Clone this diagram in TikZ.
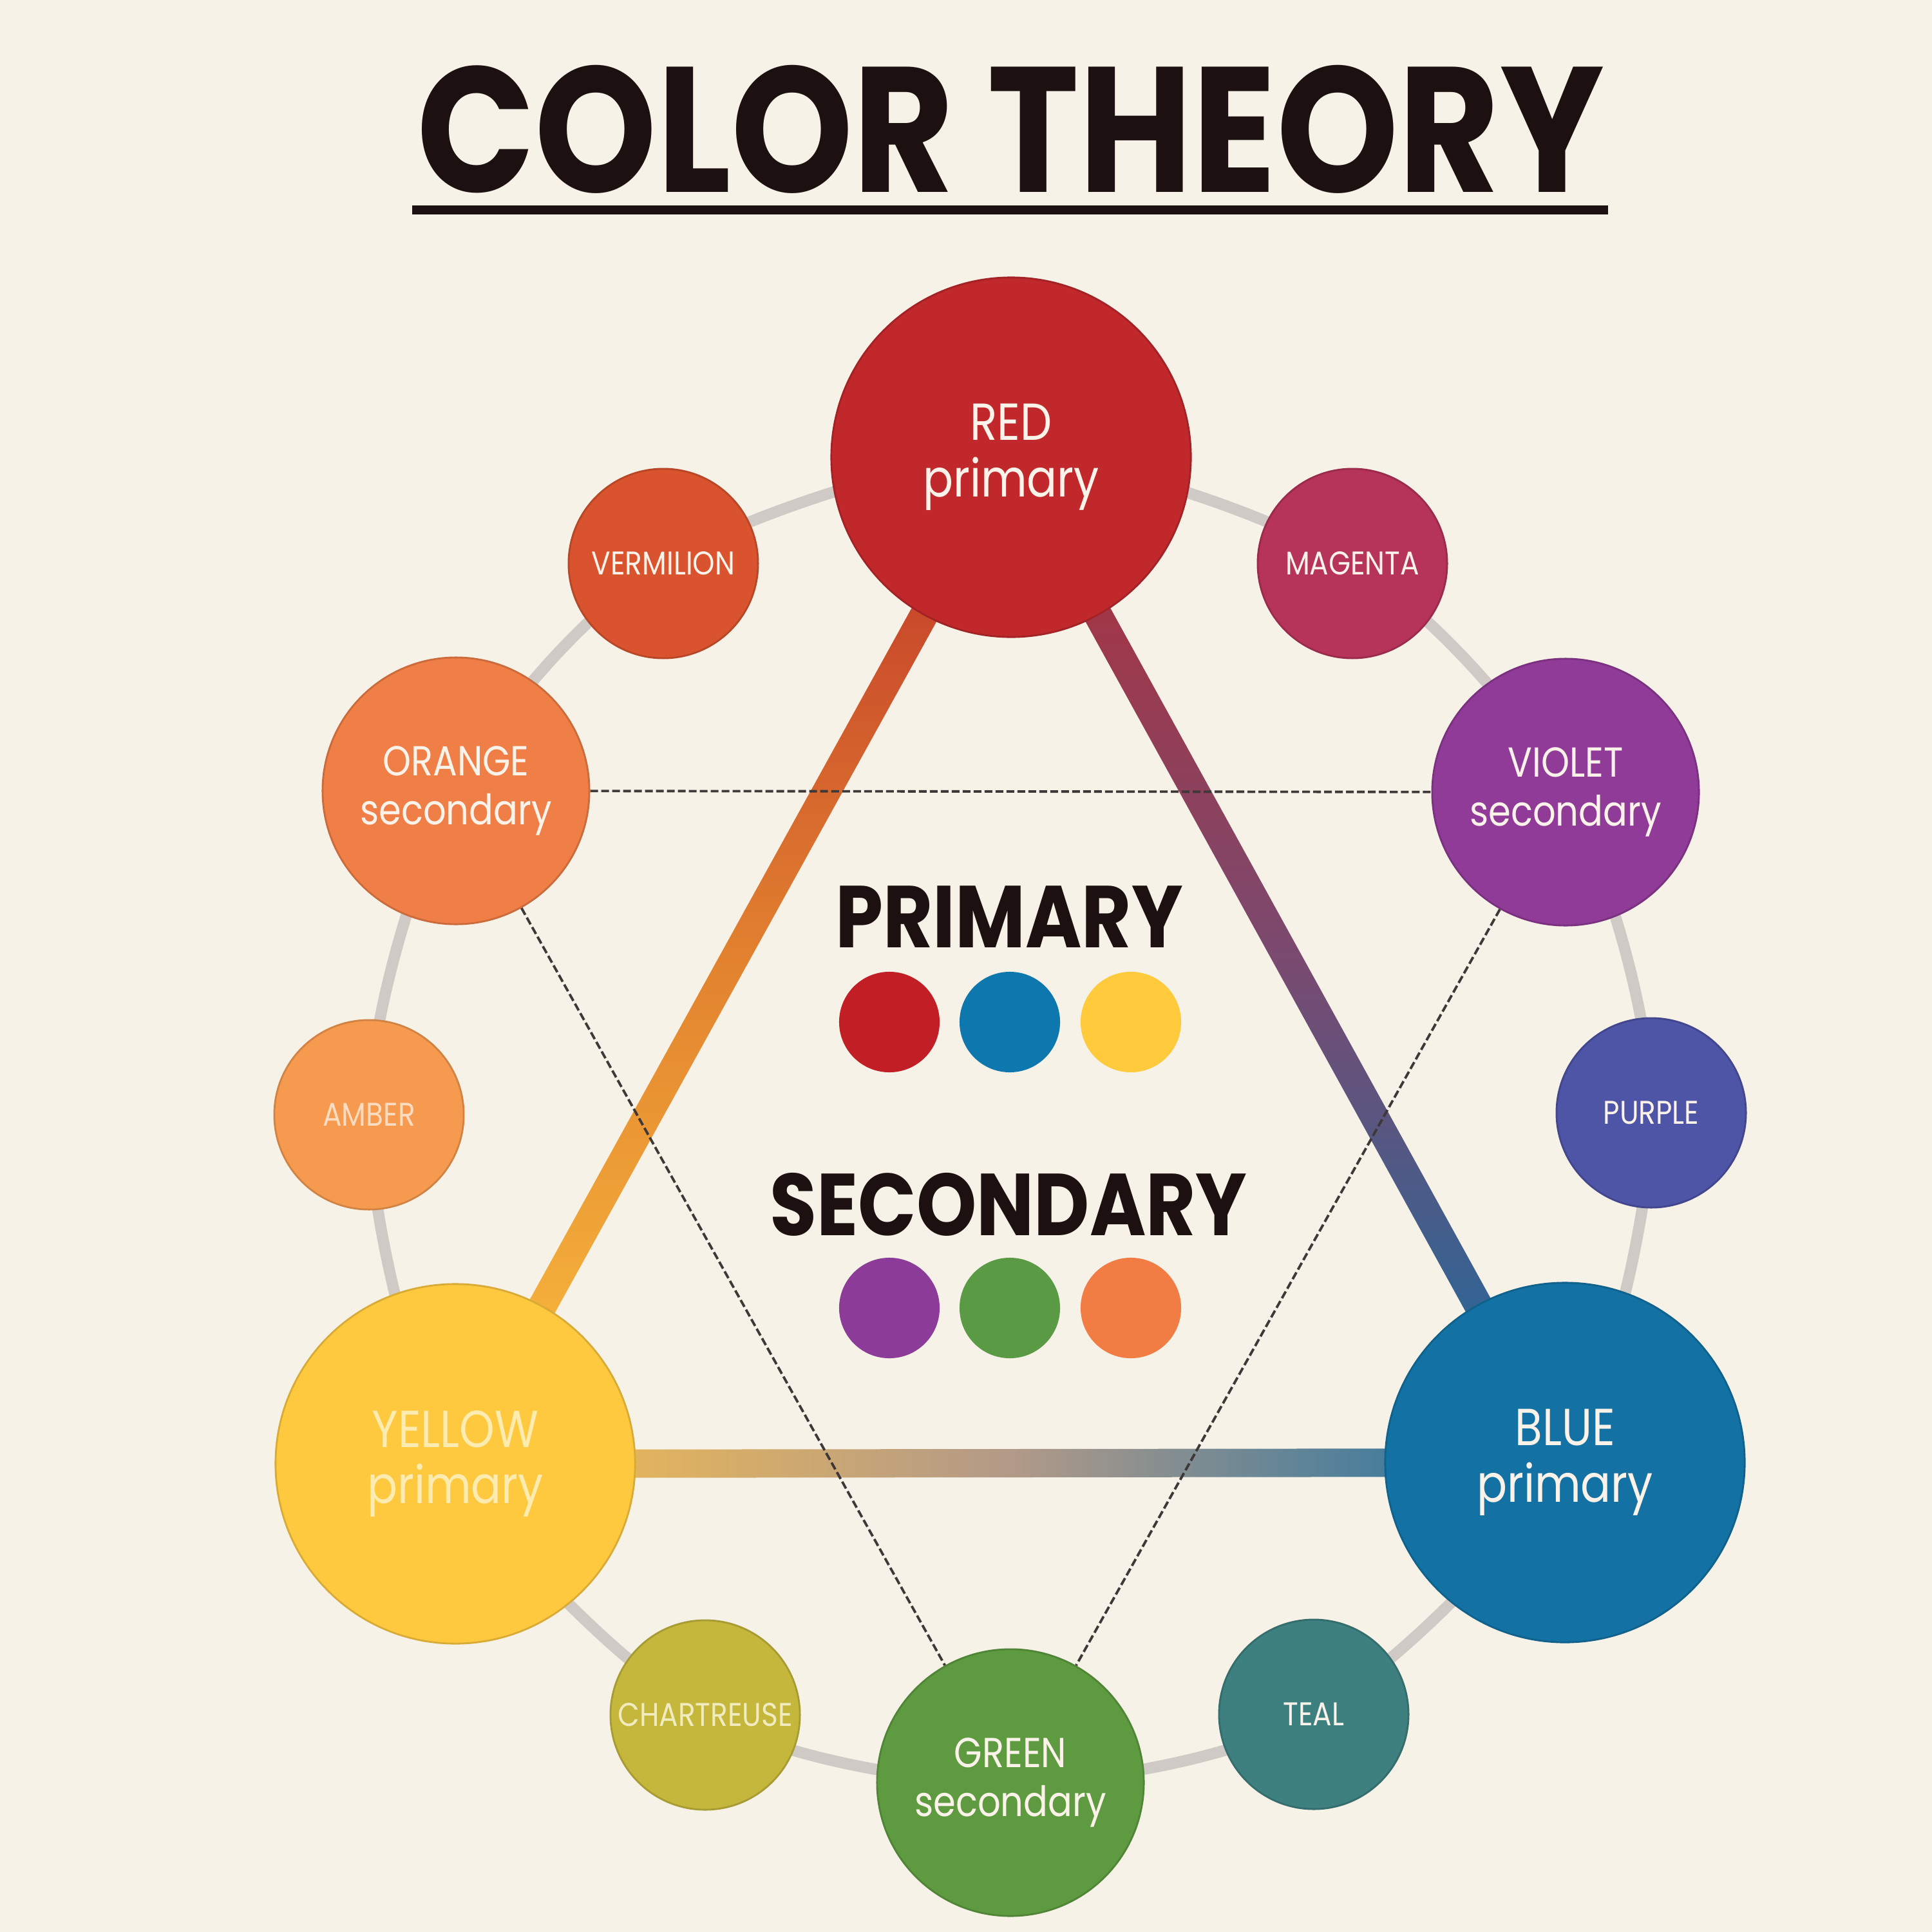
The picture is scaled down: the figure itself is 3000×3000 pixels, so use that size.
\documentclass[tikz,border=0pt]{standalone}
\usepackage{fontspec}
\setmainfont{Poppins}
\newfontfamily\hfont{Poppins}[FakeStretch=0.87]
\newfontfamily\nfont{Poppins}[FakeStretch=0.86]
\usetikzlibrary{calc}
\pgfdeclarelayer{back}
\pgfsetlayers{back,main}
\definecolor{bgc}{HTML}{F7F2E8}
\definecolor{titlec}{HTML}{1C1010}
\definecolor{txtc}{HTML}{FBF3EA}
\definecolor{cRed}{HTML}{C0282C}
\definecolor{cVerm}{HTML}{D9532E}
\definecolor{cMag}{HTML}{B6335A}
\definecolor{cOrange}{HTML}{EF7E47}
\definecolor{cViolet}{HTML}{8F3B97}
\definecolor{cAmber}{HTML}{F69A50}
\definecolor{cPurple}{HTML}{4E54A6}
\definecolor{cYellow}{HTML}{FEC93F}
\definecolor{cBlue}{HTML}{1372A3}
\definecolor{cChart}{HTML}{C5B63C}
\definecolor{cGreen}{HTML}{5E9B40}
\definecolor{cTeal}{HTML}{3E7F7F}
\definecolor{ringc}{HTML}{CFCAC6}
\definecolor{dashc}{HTML}{3F3838}
\definecolor{dRed}{HTML}{C21E25}
\definecolor{dBlue}{HTML}{0E78AE}
\definecolor{dYellow}{HTML}{FFCB3D}
\definecolor{dPurple}{HTML}{8C3B98}
\definecolor{dGreen}{HTML}{5B9A45}
\definecolor{dOrange}{HTML}{F17D45}
\definecolor{ryTop}{HTML}{BE3029}
\definecolor{ryMid}{HTML}{E2822F}
\definecolor{ryBot}{HTML}{FCC33F}
\definecolor{rbTop}{HTML}{B22E35}
\definecolor{rbMid}{HTML}{7A4A70}
\definecolor{rbBot}{HTML}{136FA3}
\definecolor{ybL}{HTML}{F9C04A}
\definecolor{ybM}{HTML}{B29A88}
\definecolor{ybR}{HTML}{1570A5}
\definecolor{tYellow}{HTML}{FDEBB0}
\definecolor{tAmber}{HTML}{FCDCC0}
\definecolor{tChart}{HTML}{F0ECC0}
\begin{document}
\begin{tikzpicture}[x=0.01cm,y=-0.01cm,
  bignode/.style={circle, inner sep=0pt, minimum size=5.58cm, fill=#1, draw=#1!85!black, line width=0.8pt,
    text=txtc, align=center, font=\nfont\fontsize{23pt}{25pt}\selectfont},
  mednode/.style={circle, inner sep=0pt, minimum size=4.14cm, fill=#1, draw=#1!85!black, line width=0.8pt,
    text=txtc, align=center, font=\nfont\fontsize{18.5pt}{21.5pt}\selectfont},
  smallnode/.style={circle, inner sep=0pt, minimum size=2.94cm, fill=#1, draw=#1!85!black, line width=0.8pt,
    text=txtc, align=center, font=\nfont\fontsize{14.5pt}{16pt}\selectfont},
  dotnode/.style={circle, inner sep=0pt, minimum size=1.56cm, fill=#1},
  headlbl/.style={text=titlec, anchor=base, font=\hfont\bfseries\fontsize{38.8pt}{40pt}\selectfont},
  ringline/.style={draw=ringc, line width=5pt},
  dashline/.style={draw=dashc, line width=1.1pt, dash pattern=on 0.12cm off 0.05cm}
]
\useasboundingbox (0,0) rectangle (3000,3000);

% title
\node[text=titlec, anchor=base, inner sep=0pt, font=\hfont\bfseries\fontsize{78.8pt}{80pt}\selectfont] (title) at (1569,298) {COLOR THEORY};
\coordinate (ulL) at (640,326);
\coordinate (ulR) at (2497,326);
\draw[titlec, line width=4pt] (ulL) -- (ulR);

% primary colours
\node[bignode=cRed] (red) at (1570,710) {RED\\primary};
\node[bignode=cYellow, text=tYellow] (yellow) at (707,2273) {YELLOW\\primary};
\node[bignode=cBlue] (blue) at (2430,2271) {BLUE\\primary};
% secondary colours
\node[mednode=cOrange] (orange) at (708,1228) {ORANGE\\secondary};
\node[mednode=cViolet] (violet) at (2431,1230) {VIOLET\\secondary};
\node[mednode=cGreen] (green) at (1569,2768) {GREEN\\secondary};
% tertiary colours
\node[smallnode=cVerm] (verm) at (1030,875) {VERMILION};
\node[smallnode=cMag] (mag) at (2100,875) {MAGENTA};
\node[smallnode=cAmber, text=tAmber] (amber) at (573,1731) {AMBER};
\node[smallnode=cPurple] (purple) at (2564,1728) {PURPLE};
\node[smallnode=cChart, text=tChart] (chart) at (1095,2663) {CHARTREUSE};
\node[smallnode=cTeal] (teal) at (2040,2662) {TEAL};

% centre legend
\node[headlbl] (primlbl) at (1567,1471) {PRIMARY};
\node[dotnode=dRed] (p1) at (1381,1587) {};
\node[dotnode=dBlue] (p2) at (1568,1587) {};
\node[dotnode=dYellow] (p3) at (1756,1587) {};
\node[headlbl] (seclbl) at (1566,1918) {SECONDARY};
\node[dotnode=dPurple] (s1) at (1381,2031) {};
\node[dotnode=dGreen] (s2) at (1568,2031) {};
\node[dotnode=dOrange] (s3) at (1756,2031) {};

\begin{pgfonlayer}{back}
\fill[bgc] (0,0) rectangle (3000,3000);
% outer ring
\draw[ringline] plot[smooth cycle] coordinates {(red.center) (mag.center) (violet.center) (purple.center) (blue.center) (teal.center) (green.center) (chart.center) (yellow.center) (amber.center) (orange.center) (verm.center)};
% primary triangle
\shade[top color=ryTop, bottom color=ryBot, middle color=ryMid]
  ($(red.center)!0.22cm!90:(yellow.center)$) -- ($(red.center)!0.22cm!-90:(yellow.center)$) --
  ($(yellow.center)!0.22cm!90:(red.center)$) -- ($(yellow.center)!0.22cm!-90:(red.center)$) -- cycle;
\shade[top color=rbTop, bottom color=rbBot, middle color=rbMid]
  ($(red.center)!0.22cm!90:(blue.center)$) -- ($(red.center)!0.22cm!-90:(blue.center)$) --
  ($(blue.center)!0.22cm!90:(red.center)$) -- ($(blue.center)!0.22cm!-90:(red.center)$) -- cycle;
\shade[left color=ybL, right color=ybR, middle color=ybM]
  ($(yellow.center)!0.22cm!90:(blue.center)$) -- ($(yellow.center)!0.22cm!-90:(blue.center)$) --
  ($(blue.center)!0.22cm!90:(yellow.center)$) -- ($(blue.center)!0.22cm!-90:(yellow.center)$) -- cycle;
% secondary triangle
\draw[dashline] (orange) -- (violet);
\draw[dashline] (orange) -- (green);
\draw[dashline] (violet) -- (green);
\end{pgfonlayer}
\end{tikzpicture}
\end{document}
